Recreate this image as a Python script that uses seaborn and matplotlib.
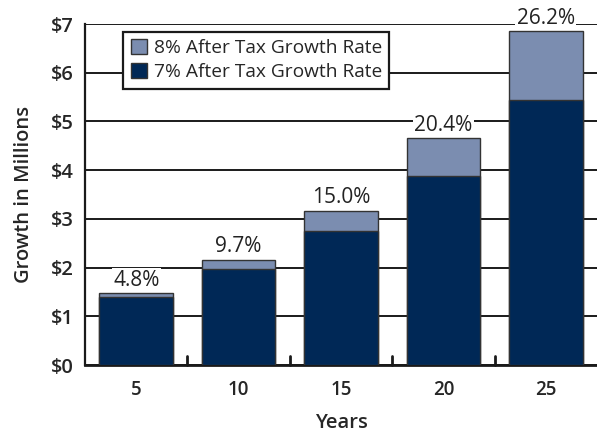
import matplotlib
matplotlib.use("Agg")
import matplotlib.pyplot as plt
import seaborn as sns
import pandas as pd
from matplotlib.patches import Patch

years = ["5", "10", "15", "20", "25"]
growth_7 = [1.40, 1.97, 2.76, 3.87, 5.43]
growth_8 = [1.47, 2.16, 3.17, 4.66, 6.85]
pct_labels = ["4.8%", "9.7%", "15.0%", "20.4%", "26.2%"]
y_ticks = [0, 1, 2, 3, 4, 5, 6, 7]
y_tick_labels = ["$0", "$1", "$2", "$3", "$4", "$5", "$6", "$7"]

sns.set_style("white")
plt.rcParams['font.family'] = ['Open Sans', 'DejaVu Sans']

df = pd.DataFrame({"Years": years, "g7": growth_7, "g8": growth_8})

light = "#7b8db0"
navy = "#002856"
edge = "#333333"

fig = plt.figure(figsize=(5.97, 4.32), dpi=100)
ax = fig.add_axes([85/597, 67/432, 1 - 85/597, (365-24)/432])

sns.barplot(data=df, x="Years", y="g8", color=light, saturation=1, width=0.72,
            edgecolor=edge, linewidth=1.0, ax=ax, zorder=2)
sns.barplot(data=df, x="Years", y="g7", color=navy, saturation=1, width=0.72,
            edgecolor=edge, linewidth=1.0, ax=ax, zorder=3)

ax.set_ylim(0, 7)
ax.set_xlim(-0.5, len(years) - 0.5)
ax.set_yticks(y_ticks)
ax.set_yticklabels(y_tick_labels, fontsize=14.5, fontweight="semibold")
ax.set_axisbelow(True)
ax.yaxis.grid(True, color="#1a1a1a", linewidth=1.4, zorder=0)
ax.tick_params(axis="y", length=0, pad=8)
ax.tick_params(axis="x", which="major", length=0, pad=11)
for lab in ax.get_xticklabels():
    lab.set_fontsize(13.5)
    lab.set_fontweight("semibold")

for s in ["top", "right"]:
    ax.spines[s].set_visible(False)
ax.spines["left"].set_color("#1a1a1a")
ax.spines["left"].set_linewidth(1.6)
ax.spines["bottom"].set_color("#1a1a1a")
ax.spines["bottom"].set_linewidth(2.0)

# separator ticks between categories, pointing up from the baseline
sep = [i + 0.5 for i in range(len(years) - 1)]
for xs in sep:
    ax.axvline(xs, ymin=0, ymax=9 / 341, color="#1a1a1a", linewidth=2.0, zorder=6,
               clip_on=False)

ax.set_xlabel("Years", fontsize=14.5, fontweight="semibold", labelpad=9)
ax.set_ylabel("Growth in Millions", fontsize=14.5, fontweight="semibold", labelpad=12)

for i, (v, t) in enumerate(zip(growth_8, pct_labels)):
    ax.text(i, v + 0.05, t, ha="center", va="bottom", fontsize=15, color="#222222",
            bbox=dict(facecolor="white", edgecolor="none", pad=1.0), zorder=4)

handles = [Patch(facecolor=light, edgecolor=edge, linewidth=1.0, label="8% After Tax Growth Rate"),
           Patch(facecolor=navy, edgecolor=edge, linewidth=1.0, label="7% After Tax Growth Rate")]
leg = ax.legend(handles=handles, loc="upper left", bbox_to_anchor=(0.074, 0.978),
                frameon=True, fancybox=False, fontsize=13.8, handlelength=0.85, handleheight=0.85,
                handletextpad=0.35, labelspacing=0.3, borderpad=0.4, framealpha=1,
                borderaxespad=0)
leg.get_frame().set_edgecolor("#1a1a1a")
leg.get_frame().set_linewidth(1.6)
leg.set_zorder(5)

fig.savefig("out.png", dpi=100, facecolor="white")
